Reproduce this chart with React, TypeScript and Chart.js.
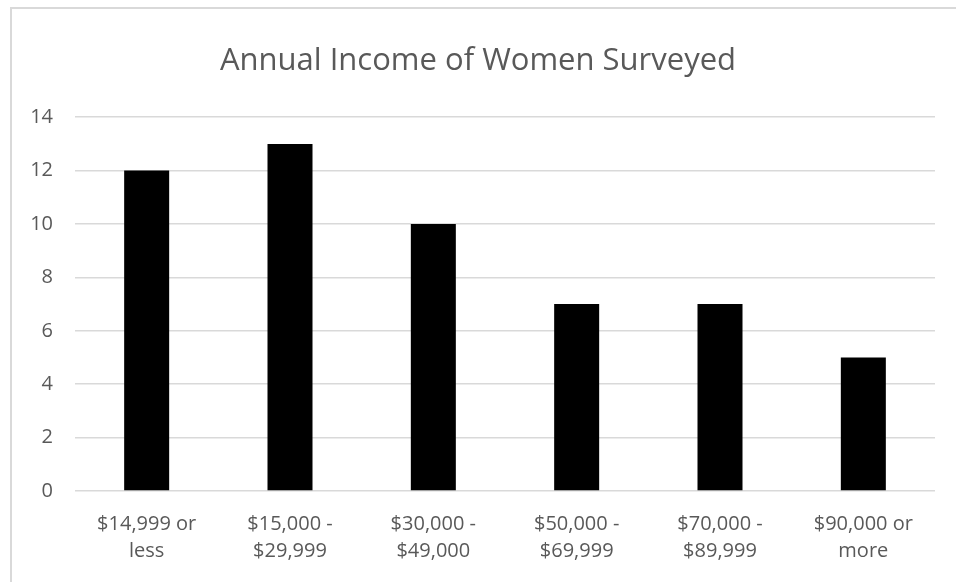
import React, { useEffect, useRef } from "react";
import { Chart, registerables } from "chart.js";

Chart.register(...registerables);

const categories: string[][] = [
  ["$14,999 or", "less"],
  ["$15,000 -", "$29,999"],
  ["$30,000 -", "$49,000"],
  ["$50,000 -", "$69,999"],
  ["$70,000 -", "$89,999"],
  ["$90,000 or", "more"],
];
const counts: number[] = [12, 13, 10, 7, 7, 5];
const chartTitle = "Annual Income of Women Surveyed";
const yMin = 0;
const yMax = 14;
const yStep = 2;

const FONT = "'Open Sans', sans-serif";
const TEXT = "#595959";
const GRID = "#d9d9d9";

export default function App() {
  const ref = useRef<HTMLCanvasElement | null>(null);
  useEffect(() => {
    if (!ref.current) return;
    const chart = new Chart(ref.current, {
      type: "bar",
      data: {
        labels: categories,
        datasets: [
          {
            data: counts,
            backgroundColor: "#000000",
            borderWidth: 0,
            barPercentage: 0.314,
            categoryPercentage: 1,
          },
        ],
      },
      options: {
        responsive: false,
        animation: false,
        layout: { padding: { left: 21, right: 21, top: 0, bottom: 0 } },
        plugins: {
          legend: { display: false },
          tooltip: { enabled: false },
          title: {
            display: true,
            text: chartTitle,
            color: TEXT,
            font: { family: FONT, size: 31, weight: "normal" },
            padding: { top: 43, bottom: 37 },
          },
        },
        scales: {
          x: {
            grid: { display: false },
            border: { display: false },
            ticks: {
              color: TEXT,
              font: { family: FONT, size: 20, lineHeight: 1.35 },
              maxRotation: 0,
              autoSkip: false,
              padding: 12,
            },
            afterFit: (s: any) => {
              s.height = 91;
            },
          },
          y: {
            min: yMin,
            max: yMax,
            grid: { color: GRID, drawTicks: false, lineWidth: 1.5 },
            border: { display: false },
            ticks: {
              stepSize: yStep,
              color: TEXT,
              font: { family: FONT, size: 20 },
              padding: 22,
            },
            afterFit: (s: any) => {
              s.width = 54;
            },
          },
        },
      },
    });
    return () => chart.destroy();
  }, []);
  return (
    <div style={{ position: "fixed", left: 0, top: 0, width: 956, height: 582, overflow: "hidden", background: "#fff" }}>
      <div
        style={{
          position: "absolute",
          left: 10,
          top: 7,
          width: 960,
          height: 590,
          border: `2px solid ${GRID}`,
        }}
      />
      <canvas ref={ref} width={956} height={582} style={{ position: "absolute", left: 0, top: 0 }} />
    </div>
  );
}
